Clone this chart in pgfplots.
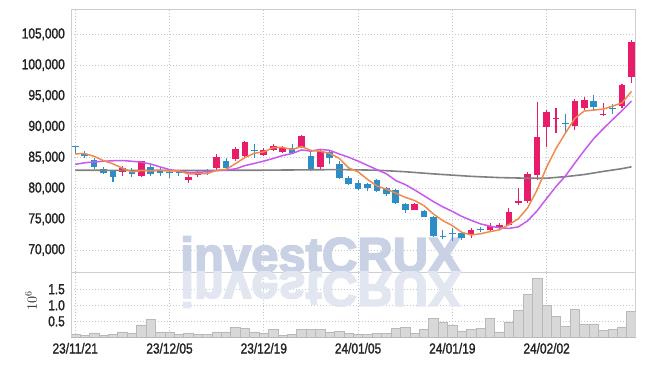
\documentclass[border=0pt]{standalone}
\usepackage{fontspec}
\usepackage{pgfplots}
\usepackage{pgfplotstable}
\pgfplotsset{compat=1.18}
\setmainfont{Liberation Sans}
\newfontfamily\tickfont[FakeStretch=0.82,FakeBold=1.4]{Liberation Sans}
\newfontfamily\wmfont[FakeBold=3.5]{Liberation Sans Bold}
\definecolor{upc}{RGB}{232,28,104}
\definecolor{dnc}{RGB}{44,142,196}
\definecolor{mafive}{RGB}{240,138,78}
\definecolor{maten}{RGB}{200,88,238}
\definecolor{malong}{RGB}{128,128,128}
\definecolor{gridc}{RGB}{195,198,215}
\definecolor{framec}{RGB}{205,205,212}
\definecolor{volf}{RGB}{216,216,216}
\definecolor{vold}{RGB}{185,185,185}
\definecolor{wm}{RGB}{201,209,229}
\definecolor{wmr}{RGB}{226,230,241}
\definecolor{tickc}{RGB}{35,35,35}

\pgfplotstableread{
i o h l c
5 82700 83600 82000 83250
7 82050 84500 81800 84450
12 81400 82300 80950 81850
13 82150 82800 81900 82600
15 83300 85500 83000 85100
17 84750 86700 84450 86450
18 85300 87700 85000 87550
20 85450 86500 85300 86200
21 86250 87200 86000 86800
22 85950 86900 85800 86600
24 86650 88700 86500 88500
26 83500 86200 83100 86100
36 76550 77700 76450 77400
42 72550 73500 71900 73250
44 73200 74350 73100 73900
45 73500 74450 73400 74050
46 74050 76850 73950 76200
47 77700 80100 77300 77900
48 78000 82700 77700 82300
49 82200 94000 81300 88400
50 90000 92650 86650 92450
51 91200 93000 88950 91350
53 90150 94500 89500 94200
54 93100 94750 92700 94350
56 91950 93800 91750 92100
58 93400 96900 93000 96800
59 98100 104000 97050 103750
}\up

\pgfplotstableread{
i o h l c
0 86900 86950 85600 86750
1 85650 86050 84900 85300
2 84600 85000 83200 83500
3 83200 83500 82300 82450
4 82850 82900 81100 81900
6 82700 83300 81800 82350
8 83500 83800 82000 82300
9 82950 83400 82000 82550
10 82650 83100 81750 82450
11 82650 83000 82000 82500
14 82950 83200 82100 82600
16 84450 85000 83100 83300
19 86250 87150 84900 86100
23 86500 87150 85650 85800
25 85250 86300 82900 83100
27 85950 86200 84000 84900
28 84000 84450 81600 81750
29 81750 82000 80550 80750
30 80900 81400 79700 79900
31 80700 80900 79600 80000
32 81350 81450 79450 79600
33 80100 80300 78750 79050
34 79750 79850 77450 77600
35 77450 77600 76050 76500
37 76350 76500 75300 75400
38 75300 75500 72050 72250
39 72350 73250 71750 72200
40 72750 73500 71400 72600
41 72700 72950 71600 71900
43 73400 73700 72900 73250
52 90550 92000 88900 90400
55 94200 95150 92600 93250
57 93000 93700 92000 92850
}\down

\pgfplotstableread{
i v
0 85600
1 85650
2 85200
3 84500
4 83980
5 83280
6 82690
7 82880
8 82850
9 82980
10 82820
11 82850
12 82330
13 82390
14 82400
15 82930
16 83090
17 84010
18 85000
19 85700
20 85920
21 86620
22 86650
23 86300
24 86780
25 86160
26 86020
27 85680
28 84870
29 83320
30 82680
31 81460
32 80400
33 79860
34 79230
35 78550
36 78030
37 77190
38 75830
39 74750
40 73970
41 72870
42 72440
43 72640
44 72980
45 73270
46 74130
47 75060
48 76870
49 79770
50 83450
51 86480
52 88980
53 91360
54 92550
55 92710
56 92860
57 93350
58 93870
59 95750
}\mafivetab

\pgfplotstableread{
i v
0 83900
1 84150
2 84300
3 84400
4 84480
5 84520
6 84400
7 84250
8 83950
9 83480
10 83050
11 82770
12 82605
13 82620
14 82690
15 82875
16 82970
17 83170
18 83695
19 84050
20 84425
21 84855
22 85330
23 85650
24 86240
25 86040
26 86320
27 86165
28 85585
29 85050
30 84420
31 83740
32 83040
33 82365
34 81275
35 80615
36 79745
37 78795
38 77845
39 76990
40 76260
41 75450
42 74815
43 74235
44 73865
45 73620
46 73500
47 73750
48 74755
49 76375
50 78360
51 80305
52 82020
53 84115
54 86160
55 88080
56 89670
57 91165
58 92615
59 94150
}\matentab

\pgfplotstableread{
i v
0 82950
10 82900
20 82950
28 83050
32 82950
35 82700
38 82350
40 82150
42 81950
45 81750
48 81650
50 81650
52 81900
54 82250
56 82750
58 83200
59 83500
}\malongtab

\pgfplotstableread{
i v
0 0.10
1 0.07
2 0.135
3 0.07
4 0.10
5 0.17
6 0.135
7 0.39
8 0.56
9 0.17
10 0.17
11 0.10
12 0.135
13 0.10
14 0.10
15 0.17
16 0.17
17 0.31
18 0.28
19 0.17
20 0.135
21 0.25
22 0.06
23 0.10
24 0.25
25 0.25
26 0.25
27 0.145
28 0.19
29 0.125
30 0.10
31 0.08
32 0.125
33 0.125
34 0.28
35 0.31
36 0.125
37 0.25
38 0.59
39 0.46
40 0.375
41 0.20
42 0.25
43 0.28
44 0.59
45 0.17
46 0.48
47 0.84
48 1.34
49 1.84
50 1.00
51 0.66
52 0.34
53 0.875
54 0.42
55 0.42
56 0.22
57 0.25
58 0.31
59 0.81
}\voltab

\pgfplotsset{
  base/.style={
    scale only axis, width=564.7bp,
    xmin=-0.45, xmax=59.45,
    axis line style={framec, line width=0.8bp},
    grid=major,
    major grid style={gridc, line width=0.7bp, dash pattern=on 1bp off 2bp},
    major tick length=0pt,
    xtick={0,10,...,50},
    tick label style={font=\tickfont\fontsize{14.5bp}{16bp}\selectfont, text=tickc},
    yticklabel style={inner sep=0pt, xshift=-6bp},
    /pgf/number format/assume math mode=true,
  },
  wick/.style={draw=none, mark=none, forget plot,
    error bars/.cd, y dir=plus, y explicit, error mark=none,
    error bar style={draw=#1, line width=1.1bp}},
  body/.style={draw=none, mark=none, forget plot,
    error bars/.cd, y dir=plus, y explicit, error mark=none,
    error bar style={draw=#1, line width=6.6bp}},
}

\begin{document}
\begin{tikzpicture}
\useasboundingbox (0,0) rectangle (645bp,366bp);

\begin{axis}[base,
  at={(71bp,94bp)}, anchor=south west, height=262.7bp,
  ymin=66430, ymax=109060,
  ytick={70000,75000,...,105000},
  scaled y ticks=false,
  yticklabel style={/pgf/number format/fixed, /pgf/number format/1000 sep={,}},
  xticklabels={},
]
\node[anchor=base, inner sep=0pt, text=wm,
  font=\wmfont\fontsize{49bp}{49bp}\selectfont]
  at (rel axis cs:0.442,0) {investCRUX};
\addplot[wick=upc] table[x=i, y=l, y error expr=\thisrow{h}-\thisrow{l}] {\up};
\addplot[wick=dnc] table[x=i, y=l, y error expr=\thisrow{h}-\thisrow{l}] {\down};
\addplot[body=upc] table[x=i, y=o, y error expr=\thisrow{c}-\thisrow{o}] {\up};
\addplot[body=dnc] table[x=i, y=c, y error expr=\thisrow{o}-\thisrow{c}] {\down};
\addplot[malong, line width=1.6bp, mark=none] table[x=i, y=v] {\malongtab};
\addplot[maten, line width=1.5bp, mark=none] table[x=i, y=v] {\matentab};
\addplot[mafive, line width=1.5bp, mark=none] table[x=i, y=v] {\mafivetab};
\end{axis}

\begin{axis}[base,
  at={(71bp,28.7bp)}, anchor=south west, height=65.3bp,
  ymin=0, ymax=2.04,
  ytick={0.5,1.0,1.5},
  yticklabel style={/pgf/number format/fixed, /pgf/number format/fixed zerofill, /pgf/number format/precision=1},
  xticklabels={23/11/21,23/12/05,23/12/19,24/01/05,24/01/19,24/02/02},
  xticklabel style={inner sep=0pt, yshift=-5.5bp},
  ylabel={$10^6$},
  ylabel style={at={(rel axis cs:0,0.556)}, anchor=center, yshift=40bp, font=\fontsize{14bp}{14bp}\selectfont, text=tickc},
]
\node[anchor=base, yscale=-1, inner sep=0pt, text=wmr,
  font=\wmfont\fontsize{49bp}{49bp}\selectfont]
  at (rel axis cs:0.442,1) {investCRUX};
\addplot[ybar, bar width=9.43bp, bar shift=0pt, fill=volf, draw=vold, line width=0.6bp] table[x=i, y=v] {\voltab};
\end{axis}
\end{tikzpicture}
\end{document}
